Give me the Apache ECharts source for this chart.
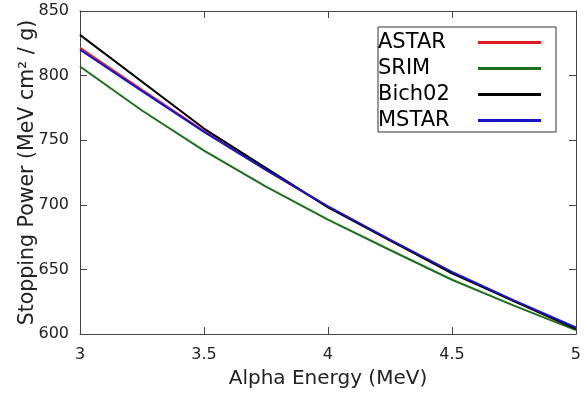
<!DOCTYPE html>
<html>
<head>
<meta charset="utf-8">
<script src="https://cdn.jsdelivr.net/npm/echarts@6/dist/echarts.min.js"></script>
<style>
  html, body { margin: 0; padding: 0; background: #fff; }
  #chart { width: 584px; height: 394px; }
</style>
</head>
<body>
<div id="chart"></div>
<script>
// energies (MeV)
var energy = [3, 3.25, 3.5, 3.75, 4, 4.25, 4.5, 4.75, 5];
var energyBich = [3, 3.5, 4, 4.5, 5];

// stopping power (MeV cm2 / g)
var astar = [821.5, 789, 757, 727, 698.5, 672.5, 647.5, 625.5, 604];
var srim = [807, 773, 742, 714, 688.5, 665, 642, 622, 603];
var bich02 = [831.5, 759, 698, 647, 604];
var mstar = [820, 788, 756.5, 727, 698.8, 673, 648, 626, 605];

var xTicks = [3, 3.5, 4, 4.5, 5];
var yTicks = [600, 650, 700, 750, 800, 850];

function pairs(xs, ys) {
  var out = [];
  for (var i = 0; i < xs.length; i++) out.push([xs[i], ys[i]]);
  return out;
}

var chart = document.getElementById('chart');
var myChart = echarts.init(chart);
var font = 'DejaVu Sans';
var axisCol = '#444';

var tickStyle = { show: true, inside: true, length: 7, lineStyle: { color: axisCol } };

option = {
  animation: false,
  textStyle: { fontFamily: font },
  grid: { left: 80, right: 4, top: 11, bottom: 60 },
  legend: {
    orient: 'vertical',
    left: 378,
    top: 27,
    padding: [5, 15, 1, 0],
    itemGap: 5,
    align: 'right',
    icon: 'rect',
    itemWidth: 63,
    itemHeight: 3,
    borderColor: '#333',
    borderWidth: 1,
    data: ['ASTAR', 'SRIM', 'Bich02', 'MSTAR'],
    formatter: function (name) { return '{a|' + name + '}'; },
    textStyle: {
      fontFamily: font,
      rich: { a: { width: 95, align: 'left', fontSize: 21, color: '#000', fontFamily: font } }
    }
  },
  xAxis: [{
    type: 'value',
    min: 3, max: 5, interval: 0.5,
    name: 'Alpha Energy (MeV)',
    nameLocation: 'middle',
    nameGap: 35,
    nameMoveOverlap: false,
    nameTextStyle: { fontSize: 20, color: '#222', fontFamily: font },
    axisLine: { lineStyle: { color: axisCol } },
    axisTick: tickStyle,
    splitLine: { show: false },
    axisLabel: { fontSize: 16, color: '#222', margin: 13, fontFamily: font,
      formatter: function (v) { return xTicks.indexOf(v) >= 0 ? String(v) : ''; } }
  }, {
    type: 'value', position: 'top',
    min: 3, max: 5, interval: 0.5,
    axisLine: { show: true, lineStyle: { color: axisCol } },
    axisTick: tickStyle,
    splitLine: { show: false },
    axisLabel: { show: false }
  }],
  yAxis: [{
    type: 'value',
    min: 600, max: 850, interval: 50,
    name: 'Stopping Power (MeV cm\u00b2 / g)',
    nameLocation: 'middle',
    nameGap: 42,
    nameMoveOverlap: false,
    nameTextStyle: { fontSize: 20.5, color: '#222', fontFamily: font },
    axisLine: { show: true, lineStyle: { color: axisCol } },
    axisTick: tickStyle,
    splitLine: { show: false },
    axisLabel: { fontSize: 16, color: '#222', margin: 11, fontFamily: font,
      formatter: function (v) { return yTicks.indexOf(v) >= 0 ? String(v) : ''; } }
  }, {
    type: 'value', position: 'right',
    min: 600, max: 850, interval: 50,
    axisLine: { show: true, lineStyle: { color: axisCol } },
    axisTick: tickStyle,
    splitLine: { show: false },
    axisLabel: { show: false }
  }],
  series: [
    { name: 'ASTAR', type: 'line', data: pairs(energy, astar), showSymbol: false,
      color: '#e3191e', lineStyle: { width: 2 } },
    { name: 'SRIM', type: 'line', data: pairs(energy, srim), showSymbol: false,
      color: '#1b711b', lineStyle: { width: 2 } },
    { name: 'Bich02', type: 'line', data: pairs(energyBich, bich02), showSymbol: false,
      color: '#000000', lineStyle: { width: 2 } },
    { name: 'MSTAR', type: 'line', data: pairs(energy, mstar), showSymbol: false,
      color: '#1414cc', lineStyle: { width: 2 } }
  ]
};

myChart.setOption(option);
</script>
</body>
</html>
